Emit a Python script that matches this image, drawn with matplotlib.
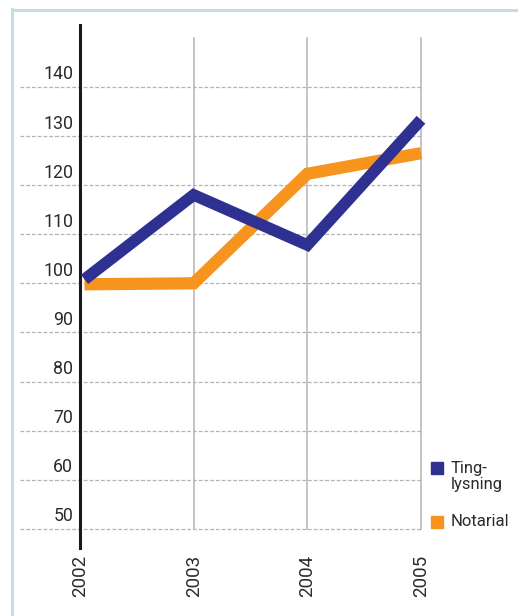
import matplotlib.pyplot as plt
from matplotlib.lines import Line2D

years = [2002, 2003, 2004, 2005]
tinglysning = [100.8, 118, 107.8, 133.3]
notarial = [99.8, 100, 122.3, 126.5]
y_ticks = [50, 60, 70, 80, 90, 100, 110, 120, 130, 140]

blue = "#2e3192"
orange = "#f7941d"
text_col = "#2b2b2b"
font = dict(family="Roboto", fontweight="normal")

fig = plt.figure(figsize=(5.18, 6.16), dpi=100)
fig.patch.set_facecolor("white")

# light blue frame on the left and top
fig.add_artist(Line2D([11.5 / 518, 11.5 / 518], [0, 1 - 9 / 616], color="#c6dde7", lw=2.2))
fig.add_artist(Line2D([11.5 / 518, 1], [1 - 9.5 / 616, 1 - 9.5 / 616], color="#c6dde7", lw=2.2))

ax = fig.add_axes([20 / 518, 1 - 548 / 616, (421 - 20) / 518, (548 - 25) / 616])
ax.set_xlim(2002 - 60 / 113.7, 2005)
ax.set_ylim(46.1, 152.6)
ax.axis("off")

# dashed horizontal grid
for v in y_ticks:
    ax.axhline(v, color="#b4b4b4", lw=0.9, ls=(0, (3, 1.6)), zorder=1)
    ax.text(2002 - 0.06, v + 0.7, str(v), ha="right", va="bottom",
            fontsize=12.8, color=text_col, **font)

# vertical grid lines for later years
for yr in years[1:]:
    ax.plot([yr, yr], [50, 150], color="#b4b4b4", lw=1.1, zorder=1, clip_on=False)

# black y axis line at 2002
ax.plot([2002, 2002], [46.1, 152.6], color="#1a1a1a", lw=2.2, zorder=2, clip_on=False)

x_lines = [years[0] + 0.04] + years[1:]
ax.plot(x_lines, notarial, color=orange, lw=8.8, solid_joinstyle="miter",
        solid_capstyle="butt", zorder=3, clip_on=False)
ax.plot(x_lines, tinglysning, color=blue, lw=8.4, solid_joinstyle="miter",
        solid_capstyle="butt", zorder=4, clip_on=False)

for yr in years:
    ax.text(yr, 44.8, str(yr), rotation=90, ha="center", va="top",
            fontsize=13.5, color=text_col, clip_on=False, **font)

# legend
fig.patches.append(plt.Rectangle((431 / 518, 1 - 474 / 616), 12 / 518, 12 / 616,
                                 transform=fig.transFigure, color=blue))
fig.text(451 / 518, 1 - 461 / 616, "Ting-\nlysning", ha="left", va="top",
         fontsize=12, color=text_col, linespacing=1.1, **font)
fig.patches.append(plt.Rectangle((431 / 518, 1 - 528 / 616), 12 / 518, 12 / 616,
                                 transform=fig.transFigure, color=orange))
fig.text(451 / 518, 1 - 522 / 616, "Notarial", ha="left", va="center",
         fontsize=12, color=text_col, **font)

fig.savefig("out.png", dpi=100)
